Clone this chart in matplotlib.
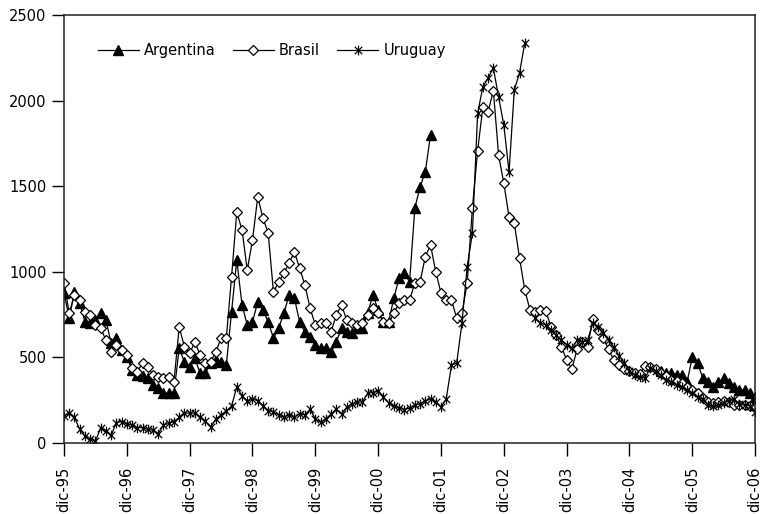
import numpy as np
import matplotlib
matplotlib.use("Agg")
import matplotlib.pyplot as plt
from matplotlib.path import Path

nan = np.nan

# monthly values, dic-95 .. dic-06 (133 months)
argentina = ([876, 730, 884, 820, 709, 700, 720, 759, 718, 584, 613, 543, 504, 426, 397, 390,
              380, 339, 321, 292, 292, 292, 555, 473,
              446, 494, 408, 408, 467, 485, 475, 456, 766, 1069, 806, 689, 707, 824,
              777, 707, 613, 672, 759, 864, 847, 707, 648, 619, 572, 555, 555, 531, 590, 672,
              648, 642, 672, 672, 760, 864, 777, 707, 707, 847, 964, 993, 940, 1372, 1495,
              1583, 1799]
             + [nan] * 43
             + [420, 410, 409, 400, 397, 356, 502, 467, 380, 356, 327, 356, 380, 350, 327,
                310, 310, 292, 269])

brasil = [934, 759, 864, 835, 767, 748, 689, 672, 601, 533, 575, 543, 514, 438, 417, 467,
          446, 397, 387, 380, 387, 358, 679, 562, 525,
          590, 514, 467, 475, 531, 613, 613, 970, 1349, 1244, 1010, 1186, 1437,
          1314, 1226, 882, 940, 993, 1051, 1116, 1022, 923, 788, 689, 699, 699, 648, 748,
          806, 718, 700, 689, 699, 748, 788, 760, 707, 699, 759, 818, 835, 835, 934, 940,
          1087, 1157, 1000, 876, 835, 835, 730, 759, 934, 1372, 1708, 1963, 1934, 2058,
          1682, 1516, 1322, 1284, 1080, 894, 777, 767, 777, 773,
          679, 631, 561, 485, 432, 549, 590, 560, 724, 660, 613, 549, 485, 456, 430, 420,
          410, 405, 450, 445, 430, 410, 390, 370, 360, 350, 330, 310, 290, 265, 240, 235,
          240, 245, 240, 225, 220, 222, 215, 205]

uruguay = ([160, 175, 150, 80, 40, 25, 10, 90, 70, 45, 120, 125, 110, 105, 90, 90, 80, 75,
            55, 105, 115, 125, 150, 175,
            175, 175, 152, 129, 93, 140, 164, 187, 216, 327, 276, 245, 257, 248, 219, 190,
            181, 164, 152, 164, 152, 170, 164, 198, 140, 123, 140, 170, 198, 170, 210, 228,
            237,
            241, 290, 295, 304, 270, 235, 215, 204, 196, 204, 222, 230, 245, 257, 240, 210,
            257, 455, 467, 700, 1030, 1226, 1927, 2080, 2132, 2190, 2021, 1857, 1583, 2062,
            2161, 2336]
           + [nan]
           + [730, 700, 690, 660, 630, 600, 575, 555, 600, 590, 600, 700, 680, 640, 600,
              560, 510, 470, 420, 400, 385, 380, 440, 420, 395, 370, 355, 340, 325, 310,
              290, 270, 255, 225, 215, 222, 235, 248, 255, 230, 220, 218, 180])

tick_labels = ["dic-95", "dic-96", "dic-97", "dic-98", "dic-99", "dic-00",
               "dic-01", "dic-02", "dic-03", "dic-04", "dic-05", "dic-06"]

months = np.arange(len(brasil))

# Excel-style asterisk marker: an X plus a vertical bar
star = Path([(-1, -1), (1, 1), (-1, 1), (1, -1), (0, -1.3), (0, 1.3)],
            [Path.MOVETO, Path.LINETO, Path.MOVETO, Path.LINETO, Path.MOVETO, Path.LINETO])

plt.rcParams["font.family"] = "DejaVu Sans"
fig = plt.figure(figsize=(7.62, 5.14), dpi=100)
ax = fig.add_axes([0.084, 0.138, 0.907, 0.833])

ax.plot(months, argentina, "-", color="black", lw=0.9, marker="^", ms=7,
        mfc="black", mec="black", label="Argentina")
ax.plot(months, brasil, "-", color="black", lw=0.9, marker="D", ms=5.5,
        mfc="white", mec="black", mew=0.9, label="Brasil")
ax.plot(months, uruguay, "-", color="black", lw=0.9, marker=star, ms=7,
        mec="black", mew=0.9, label="Uruguay")

ax.set_xlim(0, 132)
ax.set_ylim(0, 2500)
ax.set_yticks(range(0, 2501, 500))
ax.set_xticks(range(0, 133, 12))
ax.set_xticklabels(tick_labels, rotation=90, fontsize=10.5)
ax.tick_params(axis="y", labelsize=10.5, direction="out", length=9, width=1)
ax.tick_params(axis="x", direction="out", length=9, width=1, pad=8)
for s in ax.spines.values():
    s.set_linewidth(1.1)
    s.set_color("#222222")

ax.legend(loc="upper left", bbox_to_anchor=(0.03, 0.965), ncol=3, frameon=False,
          fontsize=10.5, handlelength=2.8, handletextpad=0.35, columnspacing=1.2)

fig.savefig("out.png", dpi=100)
